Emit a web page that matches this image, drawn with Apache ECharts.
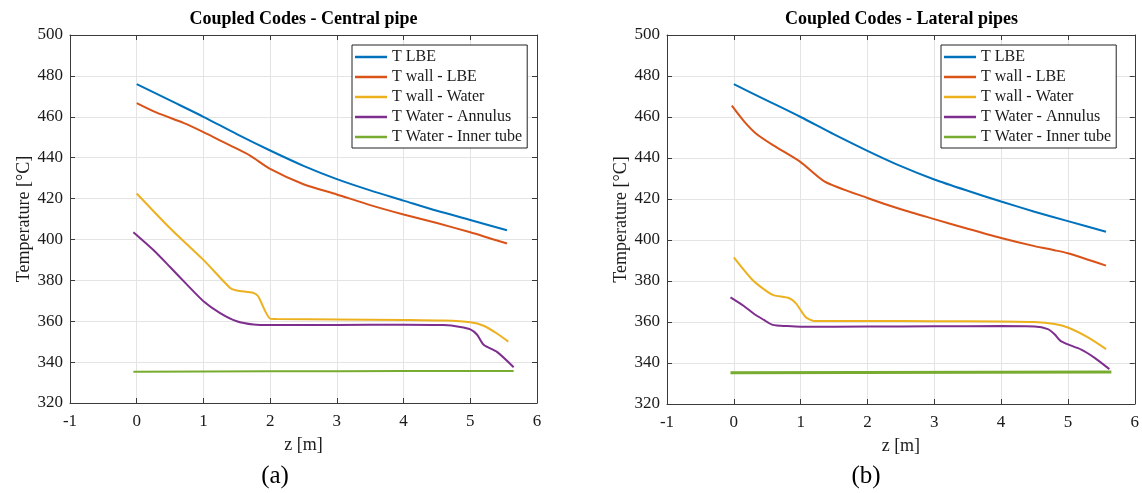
<!DOCTYPE html>
<html>
<head>
<meta charset="utf-8">
<script src="https://cdn.jsdelivr.net/npm/echarts@6/dist/echarts.min.js"></script>
<style>
html,body{margin:0;padding:0;background:#fff;}
#chart{width:1142px;height:493px;}
</style>
</head>
<body>
<div id="chart"></div>
<script>
// ---------- data (z [m], T [°C]) ----------
const seriesNames = ['T LBE', 'T wall - LBE', 'T wall - Water', 'T Water - Annulus', 'T Water - Inner tube'];
const xTicks = [-1, 0, 1, 2, 3, 4, 5, 6];
const yTicks = [320, 340, 360, 380, 400, 420, 440, 460, 480, 500];

// (a) Central pipe
const lbeA_z = [0, 0.5, 1, 1.5, 2, 2.5, 3, 3.5, 4, 4.5, 5, 5.55];
const lbeA_T = [476, 468, 460, 451.5, 443.5, 436, 429.5, 424, 419, 414, 409.5, 404.5];
const wallLbeA_z = [0, 0.3, 0.7, 1, 1.4, 1.7, 2, 2.5, 3, 3.5, 4, 4.5, 5, 5.3, 5.55];
const wallLbeA_T = [466.7, 462, 457, 452.5, 446, 441, 434.5, 427, 422, 416.8, 412.2, 408, 403.5, 400.5, 398];
const wallWaterA_z = [0, 0.5, 1, 1.4, 1.5, 1.75, 1.82, 2.0, 2.1, 3, 4, 4.6, 5.0, 5.2, 5.4, 5.57];
const wallWaterA_T = [422.5, 405.5, 390, 376.3, 375, 373.8, 372.2, 361.3, 361.1, 360.9, 360.6, 360.3, 359.5, 357.8, 354, 350];
const annA_z = [-0.05, 0.25, 0.5, 0.75, 1, 1.25, 1.5, 1.75, 2, 3, 4, 4.6, 4.85, 5.0, 5.1, 5.2, 5.4, 5.65];
const annA_T = [403.5, 394.8, 386.5, 378, 369.8, 364, 360, 358.4, 358.1, 358.2, 358.3, 358.1, 357.2, 356, 353.5, 348.5, 345, 337.5];
const innerA_z = [-0.05, 2, 4, 5.65];
const innerA_T = [335.3, 335.5, 335.6, 335.7];

// (b) Lateral pipes
const lbeB_z = [0, 0.5, 1, 1.5, 2, 2.5, 3, 3.5, 4, 4.5, 5, 5.57];
const lbeB_T = [476, 468, 460, 451.5, 443.5, 436, 429.5, 424, 418.8, 413.8, 409.2, 404];
const wallLbeB_z = [-0.03, 0.15, 0.33, 0.6, 1, 1.36, 2, 2.5, 3, 3.5, 4, 4.5, 4.8, 5, 5.57];
const wallLbeB_T = [465.5, 458, 452, 446, 438, 428.5, 420.5, 415, 410.2, 405.5, 401, 397, 395, 393.5, 387.5];
const wallWaterB_z = [0, 0.28, 0.5, 0.6, 0.83, 0.93, 1.07, 1.2, 2, 3, 4, 4.5, 4.8, 5.0, 5.3, 5.57];
const wallWaterB_T = [391.5, 380.5, 374.8, 373, 371.6, 369.1, 362.6, 360.5, 360.5, 360.4, 360.3, 360, 359, 357.3, 352.5, 346.8];
const annB_z = [-0.05, 0.15, 0.3, 0.45, 0.58, 0.8, 1, 2, 3, 4, 4.5, 4.7, 4.8, 4.9, 5.2, 5.4, 5.62];
const annB_T = [372, 367.8, 364, 361, 358.6, 358, 357.7, 357.8, 357.9, 358, 357.8, 356.5, 354, 350.5, 346.5, 342.5, 337];
const innerB_z = [-0.05, 5.65];
const innerB_T = [335.3, 335.6];

// ---------- styling ----------
const FONT = 'Liberation Serif';
const TXT = '#1a1a1a';
const AX = '#3a3a3a';
const colors = ['#0072BD', '#D95319', '#EDB120', '#7E2F8E', '#77AC30'];
const zip = (a, b) => a.map((v, i) => [v, b[i]]);

const panels = [
  { title: 'Coupled Codes - Central pipe', label: '(a)', grid: { left: 70, top: 35, width: 467, height: 368 },
    data: [[lbeA_z, lbeA_T], [wallLbeA_z, wallLbeA_T], [wallWaterA_z, wallWaterA_T], [annA_z, annA_T], [innerA_z, innerA_T]],
    legendLeft: 352, labelX: 275, widths: [2, 2, 2, 2, 2] },
  { title: 'Coupled Codes - Lateral pipes', label: '(b)', grid: { left: 667, top: 35, width: 469, height: 369 },
    data: [[lbeB_z, lbeB_T], [wallLbeB_z, wallLbeB_T], [wallWaterB_z, wallWaterB_T], [annB_z, annB_T], [innerB_z, innerB_T]],
    legendLeft: 941, labelX: 866, widths: [2, 2, 2, 2, 3] }
];

const option = { animation: false, backgroundColor: '#fff', title: [], grid: [], xAxis: [], yAxis: [], legend: [], series: [] };

panels.forEach((p, gi) => {
  const cx = p.grid.left + p.grid.width / 2;
  option.grid.push(p.grid);
  option.title.push({ text: p.title, left: cx, top: 10, textAlign: 'center', padding: 0,
    textStyle: { fontFamily: FONT, fontWeight: 'bold', fontSize: 18, color: '#000' } });
  option.title.push({ text: p.label, left: p.labelX, top: 464, textAlign: 'center', padding: 0,
    textStyle: { fontFamily: FONT, fontWeight: 'normal', fontSize: 25, color: '#000' } });

  const common = { gridIndex: gi, type: 'value', interval: 1, min: xTicks[0], max: xTicks[xTicks.length - 1] };
  option.xAxis.push(Object.assign({}, common, {
    position: 'bottom', name: 'z [m]', nameLocation: 'middle', nameGap: 33,
    nameTextStyle: { fontFamily: FONT, fontSize: 18, color: TXT },
    axisLine: { show: true, onZero: false, lineStyle: { color: AX, width: 1 } },
    axisTick: { show: true, inside: true, length: 5, lineStyle: { color: AX } },
    axisLabel: { fontFamily: FONT, fontSize: 17, color: TXT, margin: 10 },
    splitLine: { show: true, lineStyle: { color: '#e4e4e4', width: 1 } }
  }));
  option.xAxis.push(Object.assign({}, common, {
    position: 'top',
    axisLine: { show: true, onZero: false, lineStyle: { color: AX, width: 1 } },
    axisTick: { show: true, inside: true, length: 5, lineStyle: { color: AX } },
    axisLabel: { show: false }, splitLine: { show: false }
  }));
  const ycommon = { gridIndex: gi, type: 'value', interval: 20, min: yTicks[0], max: yTicks[yTicks.length - 1] };
  option.yAxis.push(Object.assign({}, ycommon, {
    position: 'left', name: 'Temperature [°C]', nameLocation: 'middle', nameGap: 36,
    nameTextStyle: { fontFamily: FONT, fontSize: 18, color: TXT },
    axisLine: { show: true, onZero: false, lineStyle: { color: AX, width: 1 } },
    axisTick: { show: true, inside: true, length: 5, lineStyle: { color: AX } },
    axisLabel: { fontFamily: FONT, fontSize: 17, color: TXT, margin: 7 },
    splitLine: { show: true, lineStyle: { color: '#e4e4e4', width: 1 } }
  }));
  option.yAxis.push(Object.assign({}, ycommon, {
    position: 'right',
    axisLine: { show: true, onZero: false, lineStyle: { color: AX, width: 1 } },
    axisTick: { show: true, inside: true, length: 5, lineStyle: { color: AX } },
    axisLabel: { show: false }, splitLine: { show: false }
  }));

  option.legend.push({
    data: seriesNames, orient: 'vertical', left: p.legendLeft, top: 45,
    backgroundColor: '#fff', borderColor: '#222', borderWidth: 1, borderRadius: 0,
    padding: [4, 5, 3, 3], itemGap: 4, itemWidth: 32, itemHeight: 2.5, icon: 'rect',
    textStyle: { fontFamily: FONT, fontSize: 16, color: TXT, lineHeight: 16 },
    selectedMode: false
  });

  p.data.forEach((d, si) => {
    option.series.push({
      name: seriesNames[si], type: 'line', xAxisIndex: gi * 2, yAxisIndex: gi * 2,
      data: zip(d[0], d[1]), symbol: 'none', smooth: 0.25, z: 3,
      lineStyle: { color: colors[si], width: p.widths[si] }, itemStyle: { color: colors[si] }
    });
  });
});

const chart = echarts.init(document.getElementById('chart'), null, { renderer: 'canvas' });
chart.setOption(option);
</script>
</body>
</html>
